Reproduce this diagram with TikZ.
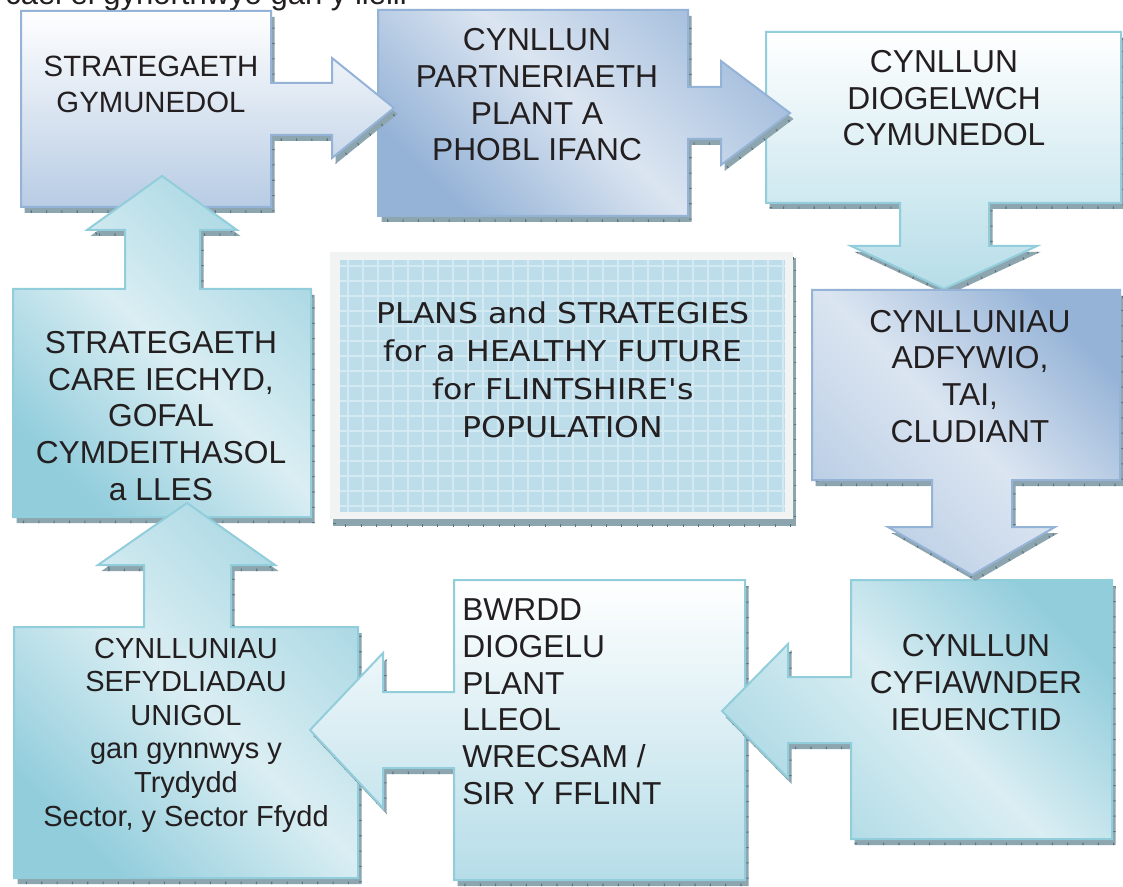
\documentclass[tikz,border=0pt]{standalone}
\usepackage{fontspec}
\setmainfont{Liberation Sans}
\newfontfamily\comicfont[FakeStretch=1.1]{DejaVu Sans}
\definecolor{txt}{HTML}{231F20}
\definecolor{blueB}{HTML}{95B3D7}
\definecolor{blueL}{HTML}{DBE5F1}
\definecolor{blueM}{HTML}{B8CCE4}
\definecolor{cyanB}{HTML}{92CDDC}
\definecolor{cyanL}{HTML}{DAEEF3}
\definecolor{cyanM}{HTML}{B6DDE8}
\definecolor{shadowc}{HTML}{8DA5AE}
\definecolor{tickc}{HTML}{5A737D}
\definecolor{gridfill}{HTML}{BDDDEA}
\definecolor{gridline}{HTML}{D4EAF2}
\definecolor{framec}{HTML}{F2F4F4}
\tikzset{
  boxtext/.style={align=center, text=txt, inner sep=0pt, anchor=base,
    font=\fontsize{23.8}{27.5}\selectfont},
  outline/.style={draw=#1, line width=1.5pt, line join=miter},
}
% callout outlines (pixel coordinates, y downwards)
\def\pA{(21,11) -- (271,11) -- (271,83) -- (332,83) -- (332,58) -- (394,108) -- (332,158) -- (332,135) -- (271,135) -- (271,207) -- (21,207) -- cycle}
\def\pB{(378,10) -- (688,10) -- (688,87) -- (721,87) -- (721,61) -- (790,113) -- (721,165) -- (721,139) -- (688,139) -- (688,216) -- (378,216) -- cycle}
\def\pC{(766,32) -- (1121,32) -- (1121,203) -- (989,203) -- (989,246) -- (1037,246) -- (944,289) -- (851,246) -- (900,246) -- (900,203) -- (766,203) -- cycle}
\def\pD{(812,290) -- (1120,290) -- (1120,480) -- (1012,480) -- (1012,527) -- (1055,527) -- (972,575) -- (888,527) -- (932,527) -- (932,480) -- (812,480) -- cycle}
\def\pE{(851,580) -- (1112,580) -- (1112,839) -- (851,839) -- (851,743) -- (788,743) -- (788,778) -- (722,711) -- (788,644) -- (788,677) -- (851,677) -- cycle}
\def\pF{(454,580) -- (745,580) -- (745,880) -- (454,880) -- (454,768) -- (383,768) -- (383,808) -- (310,730) -- (383,653) -- (383,692) -- (454,692) -- cycle}
\def\pG{(14,627) -- (144,627) -- (144,565) -- (98,565) -- (187,503) -- (275,565) -- (231,565) -- (231,627) -- (358,627) -- (358,878) -- (14,878) -- cycle}
\def\pH{(13,289) -- (125,289) -- (125,230) -- (87,230) -- (162,176) -- (237,230) -- (200,230) -- (200,289) -- (311,289) -- (311,517) -- (13,517) -- cycle}
\newcommand\dropshadow[1]{%
  \fill[shadowc, shift={(3.5,6)}] #1;
  \begin{scope}
    \clip[shift={(3.5,6)}] #1;
    \draw[tickc, line width=3.75pt, dash pattern=on 0.8pt off 10.7pt, shift={(3.5,6)}] #1;
  \end{scope}}
\begin{document}
\begin{tikzpicture}[x=0.75pt, y=-0.75pt]
\useasboundingbox (0,0) rectangle (1123,887);
\fill[white] (0,0) rectangle (1123,887);

% stray line of text cut at the top
\node[anchor=base west, inner sep=0pt, text=txt, font=\fontsize{23.25}{27}\selectfont] (toptext) at (5,5) {cael ei gynorthwyo gan y lleill};

% centre panel
\fill[shadowc] (333,258) rectangle (796,526);
\begin{scope}
  \clip (333,258) rectangle (796,526);
  \draw[tickc, line width=3.75pt, dash pattern=on 0.8pt off 10.7pt] (333,258) -- (796,258) -- (796,526) -- (333,526) -- cycle;
\end{scope}
\fill[framec] (330,252) rectangle (793,519);
\fill[gridfill] (340,260) rectangle (785,512);
\begin{scope}
  \clip (340,260) rectangle (785,512);
  \foreach \gx in {348,363,...,785} \draw[gridline, line width=0.9pt] (\gx,260) -- (\gx,512);
  \foreach \gy in {266,281,...,512} \draw[gridline, line width=0.9pt] (340,\gy) -- (785,\gy);
\end{scope}

% callouts, drawn from bottom to top of the stack
\dropshadow{\pC}
\shade[top color=white, bottom color=cyanM] \pC;
\draw[outline=cyanB] \pC;

\dropshadow{\pB}
\shade[top color=blueB, bottom color=blueB!85!white, middle color=blueL, shading angle=135] \pB;
\draw[outline=blueB] \pB;

\dropshadow{\pA}
\shade[top color=white, bottom color=blueM] \pA;
\draw[outline=blueB] \pA;

\dropshadow{\pH}
\shade[top color=cyanB, bottom color=cyanB!80!white, middle color=cyanL, shading angle=135] \pH;
\draw[outline=cyanB] \pH;

\dropshadow{\pG}
\shade[top color=cyanB, bottom color=cyanB!80!white, middle color=cyanL, shading angle=135] \pG;
\draw[outline=cyanB] \pG;

\dropshadow{\pF}
\shade[top color=white, bottom color=cyanM] \pF;
\draw[outline=cyanB] \pF;

\dropshadow{\pE}
\shade[top color=cyanB!75!white, bottom color=cyanB, middle color=cyanL, shading angle=135] \pE;
\draw[outline=cyanB] \pE;

\dropshadow{\pD}
\shade[top color=blueB!65!white, bottom color=blueB, middle color=blueL, shading angle=135] \pD;
\draw[outline=blueB] \pD;

% texts (anchor = baseline of the last line)
\node[boxtext, font=\fontsize{22}{27}\selectfont] (t1) at (151,113) {STRATEGAETH\\GYMUNEDOL};
\node[boxtext] (t2) at (537,161) {CYNLLUN\\PARTNERIAETH\\PLANT A\\PHOBL IFANC};
\node[boxtext] (t3) at (944,146) {CYNLLUN\\DIOGELWCH\\CYMUNEDOL};
\node[boxtext] (t4) at (970,442) {CYNLLUNIAU\\ADFYWIO,\\TAI,\\CLUDIANT};
\node[boxtext] (t5) at (976,730) {CYNLLUN\\CYFIAWNDER\\IEUENCTID};
\node[boxtext, align=left, anchor=base west] (t6) at (462,804) {BWRDD\\DIOGELU\\PLANT\\LLEOL\\WRECSAM /\\SIR Y FFLINT};
\node[boxtext, font=\fontsize{21.75}{25.2}\selectfont] (t7) at (186,826) {CYNLLUNIAU\\SEFYDLIADAU\\UNIGOL\\gan gynnwys y\\Trydydd\\Sector, y Sector Ffydd};
\node[boxtext] (t8) at (161,500) {STRATEGAETH\\CARE IECHYD,\\GOFAL\\CYMDEITHASOL\\a LLES};
\node[boxtext, font=\comicfont\fontsize{21.5}{28.5}\selectfont] (centre) at (563,437) {PLANS and STRATEGIES\\for a HEALTHY FUTURE\\for FLINTSHIRE's\\POPULATION};
\end{tikzpicture}
\end{document}
